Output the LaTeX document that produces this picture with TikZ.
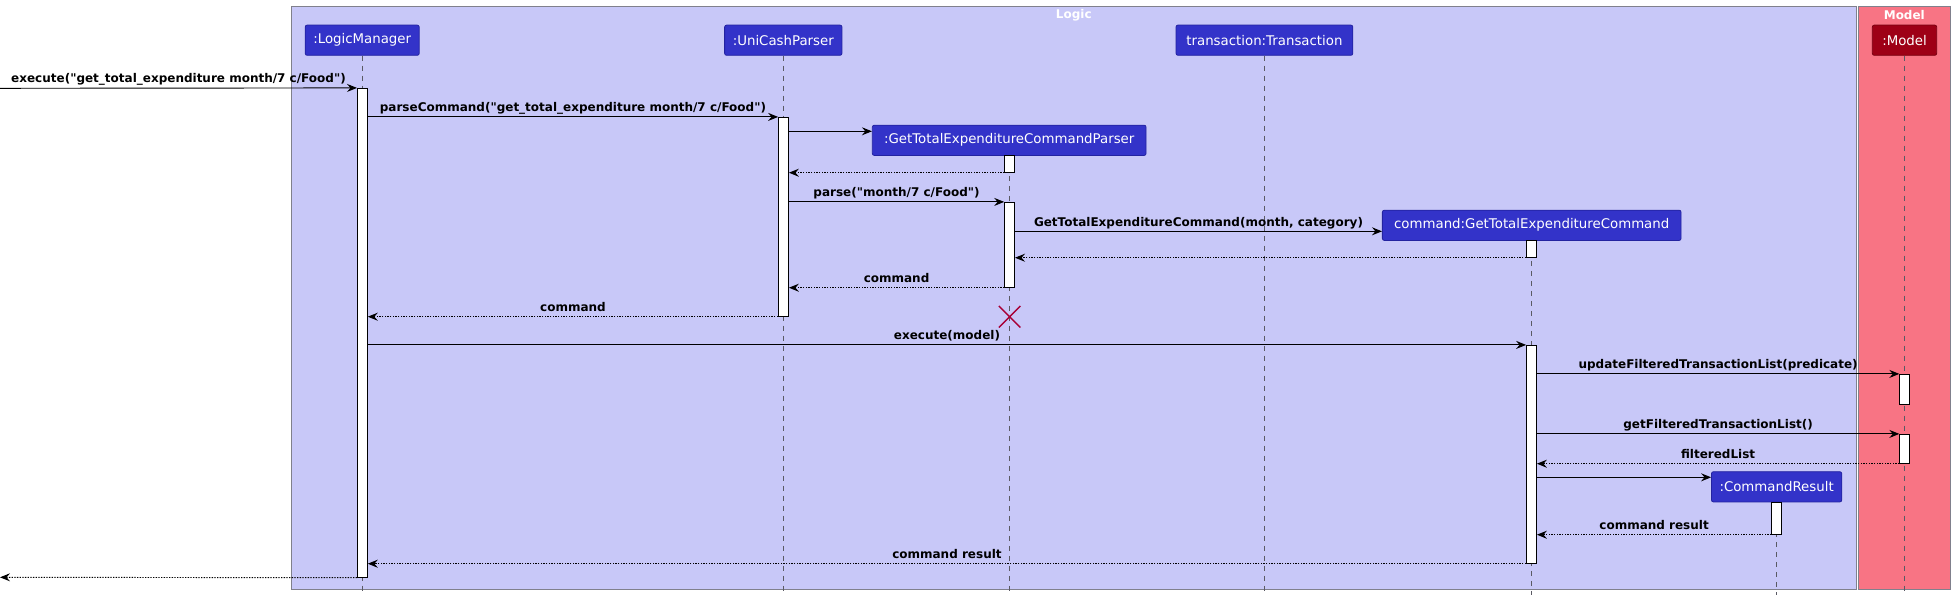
\documentclass[tikz,border=0pt]{standalone}
\usepackage{fontspec}
\setmainfont{DejaVu Sans}[Ligatures=TeXOff]
\usetikzlibrary{arrows.meta,fit,shapes.misc}
\definecolor{logicbg}{RGB}{200,200,248}
\definecolor{modelbg}{RGB}{248,116,132}
\definecolor{partblue}{RGB}{51,51,201}
\definecolor{partbord}{RGB}{35,35,160}
\definecolor{modelbox}{RGB}{158,0,22}
\definecolor{modelbord}{RGB}{120,0,16}
\definecolor{xred}{RGB}{168,0,54}
\definecolor{grpbord}{RGB}{128,128,140}
\definecolor{lifegray}{RGB}{90,90,100}
\begin{document}
\begin{tikzpicture}[x=0.75pt,y=-0.75pt,
  part/.style={draw=partbord, fill=partblue, line width=0.6pt, rounded corners=1.5pt, text=white,
    font=\fontsize{10}{12}\selectfont, minimum height=22.7pt, inner sep=0pt},
  act/.style={draw=black, fill=white, line width=0.6pt, inner xsep=3.75pt, inner ysep=0pt},
  lifeline/.style={draw=lifegray, line width=0.5pt, dash pattern=on 3.75pt off 3.75pt},
  msg/.style={draw=black, line width=0.7pt, -{Stealth[length=7.5pt,width=6pt,inset=2.6pt]}},
  ret/.style={msg, dash pattern=on 1pt off 1pt},
  lbl/.style={font=\bfseries\fontsize{9}{11}\selectfont, inner sep=0pt, anchor=base, yshift=3.9pt},
  grp/.style={draw=grpbord, line width=0.75pt, inner sep=0pt},
  grptitle/.style={text=white, font=\bfseries\fontsize{9}{11}\selectfont, inner sep=0pt},
  xmark/.style={cross out, draw=xred, line width=1.1pt, minimum size=15pt, inner sep=0pt}]
\useasboundingbox (0,0) rectangle (1955,601);
% groups
\node[grp, fill=logicbg, fit={(291,6)(1856.3,589.3)}] (gLogic) {};
\node[grp, fill=modelbg, fit={(1858.3,6)(1950.5,589.3)}] (gModel) {};
\node[grptitle] (tLogic) at (1073.8,15) {Logic};
\node[grptitle] (tModel) at (1904.3,15) {Model};
% participants
\node[part, minimum width=85.5pt] (pLM) at (362.2,40.2) {:LogicManager};
\node[part, minimum width=88pt] (pUC) at (783.3,40.2) {:UniCashParser};
\node[part, minimum width=132.6pt] (pTr) at (1264.4,40.2) {transaction:Transaction};
\node[part, minimum width=48.3pt, fill=modelbox, draw=modelbord] (pMo) at (1904.5,40.2) {:Model};
\node[part, minimum width=205.3pt] (pPa) at (1009.2,140.3) {:GetTotalExpenditureCommandParser};
\node[part, minimum width=224pt] (pCm) at (1531.7,225.3) {command:GetTotalExpenditureCommand};
\node[part, minimum width=97.7pt] (pCR) at (1776.6,486.8) {:CommandResult};
% lifelines
\coordinate (bot) at (0,595);
\foreach \p in {pLM,pUC,pTr,pMo,pPa,pCm,pCR}
  \draw[lifeline] (\p.south) -- (\p.south |- bot);
% activations
\node[act, fit={(362.4,88.3)(362.4,577.3)}] (aLM) {};
\node[act, fit={(783.5,117.3)(783.5,316.3)}] (aUC) {};
\node[act, fit={(1009.6,155.3)(1009.6,172.3)}] (aP1) {};
\node[act, fit={(1009.6,202.3)(1009.6,287.3)}] (aP2) {};
\node[act, fit={(1531.5,240.3)(1531.5,257.3)}] (aC1) {};
\node[act, fit={(1531.5,345.3)(1531.5,563.3)}] (aC2) {};
\node[act, fit={(1904.7,374.3)(1904.7,404.3)}] (aM1) {};
\node[act, fit={(1904.7,434.3)(1904.7,463.3)}] (aM2) {};
\node[act, fit={(1776.6,502.3)(1776.6,534.3)}] (aCR) {};
% free ends and create levels
\coordinate (in) at (0,88.3);
\coordinate (out) at (0,577.3);
\coordinate (yP) at (0,131.3);
\coordinate (yC) at (0,231.3);
\coordinate (yR) at (0,477.3);
% messages
\draw[msg] (in) -- node[lbl, midway] {execute("get\_total\_expenditure month/7 c/Food")} (aLM.north west);
\draw[msg] (aLM.east |- aUC.north) -- node[lbl, midway] {parseCommand("get\_total\_expenditure month/7 c/Food")} (aUC.north west);
\draw[msg] (aUC.east |- yP) -- (pPa.west |- yP);
\draw[ret] (aP1.south west) -- (aUC.east |- aP1.south);
\draw[msg] (aUC.east |- aP2.north) -- node[lbl, midway] {parse("month/7 c/Food")} (aP2.north west);
\draw[msg] (aP2.east |- yC) -- node[lbl, midway] {GetTotalExpenditureCommand(month, category)} (pCm.west |- yC);
\draw[ret] (aC1.south west) -- (aP2.east |- aC1.south);
\draw[ret] (aP2.south west) -- node[lbl, midway] {command} (aUC.east |- aP2.south);
\draw[ret] (aUC.south west) -- node[lbl, midway] {command} (aLM.east |- aUC.south);
\node[xmark] (xP) at (1009.6,316.7) {};
\draw[msg] (aLM.east |- aC2.north) -- node[lbl, midway] {execute(model)} (aC2.north west);
\draw[msg] (aC2.east |- aM1.north) -- node[lbl, midway] {updateFilteredTransactionList(predicate)} (aM1.north west);
\draw[msg] (aC2.east |- aM2.north) -- node[lbl, midway] {getFilteredTransactionList()} (aM2.north west);
\draw[ret] (aM2.south west) -- node[lbl, midway] {filteredList} (aC2.east |- aM2.south);
\draw[msg] (aC2.east |- yR) -- (pCR.west |- yR);
\draw[ret] (aCR.south west) -- node[lbl, midway] {command result} (aC2.east |- aCR.south);
\draw[ret] (aC2.south west) -- node[lbl, midway] {command result} (aLM.east |- aC2.south);
\draw[ret] (aLM.south west) -- (out);
\end{tikzpicture}
\end{document}
